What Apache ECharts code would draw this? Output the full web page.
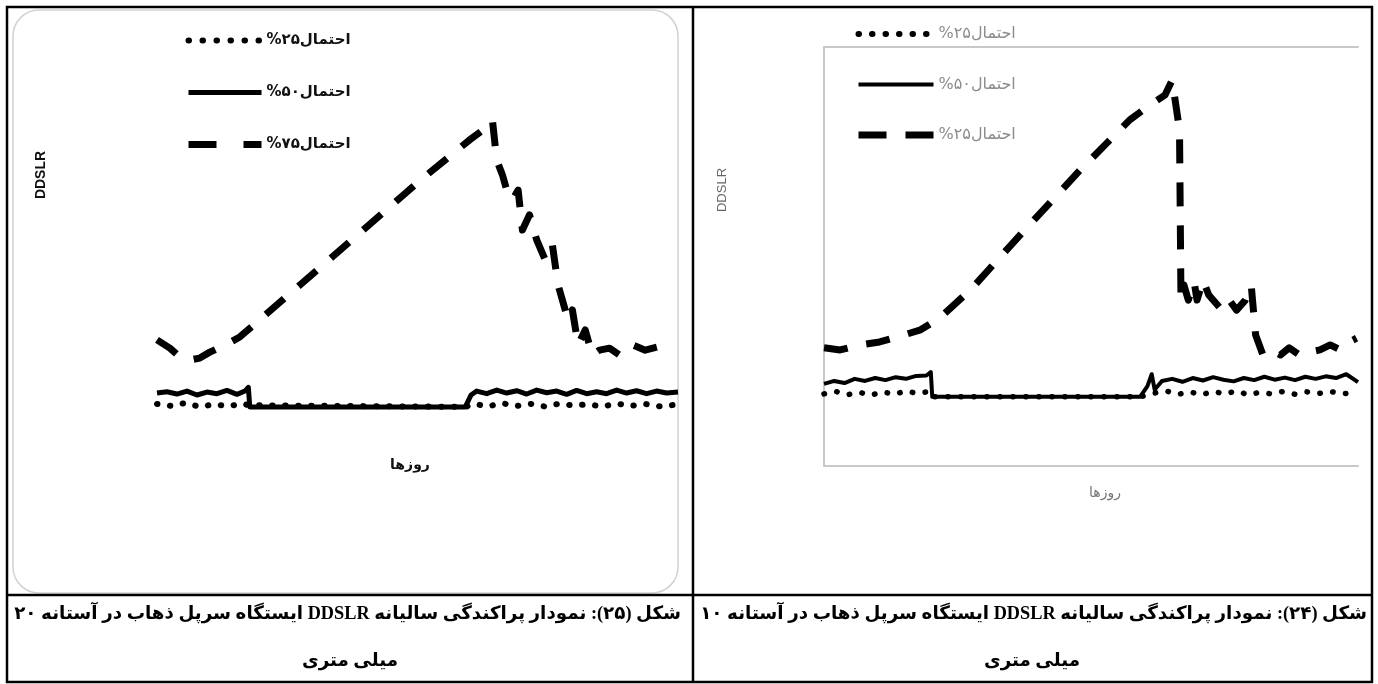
<!DOCTYPE html>
<html>
<head>
<meta charset="utf-8">
<script src="https://cdn.jsdelivr.net/npm/echarts@6/dist/echarts.min.js"></script>
<style>
html,body{margin:0;padding:0;background:#fff;}
#c{width:1378px;height:684px;}
#c canvas{direction:rtl;}
</style>
</head>
<body>
<div id="c"></div>
<script>
// ---- Data (x = day of year, y = relative DDSLR) ----
// Left chart: threshold 20 mm (Fig. 25)
const L25_DAYS = [0,10,20,30,40,50,60,64,65,216,222,232,242,252,262,272,282,292,302,312,322,332,342,352,365];
const L25_VALS = [7.9,7.3,8.2,7.0,7.8,7.2,8.0,7.5,7.0,7.0,7.9,7.2,8.1,7.3,7.9,7.1,8.0,7.4,7.8,7.1,8.0,7.3,7.9,7.2,7.7];
const L50_DAYS = [0,7,14,21,28,35,42,49,56,62,64,65,216,220,224,231,238,245,252,259,266,273,280,287,294,301,308,315,322,329,336,343,350,357,365];
const L50_VALS = [11.2,11.6,10.9,11.8,10.6,11.5,11.0,12.0,10.8,11.9,12.9,7.0,7.0,10.6,11.8,11.0,12.1,11.2,11.9,10.9,12.1,11.3,11.8,10.8,12.0,11.0,11.6,11.0,12.1,11.2,11.9,11.0,11.8,11.2,11.5];
const L75_DAYS = [0,9,16,23,30,37,48,58,100,142,184,219,233,235,238,242,246,249,253,256,261,266,272,277,281,284,288,291,295,300,305,310,317,324,333,342,356];
const L75_VALS = [27.3,24.8,22.1,21.2,21.8,23.6,25.8,28.2,43.9,59.7,75.5,87.9,92.4,93.9,81.8,77.3,71.2,69.7,72.7,60.6,65.2,57.6,51.5,56.1,43.9,39.4,33.3,36.4,25.8,30.3,22.7,24.2,24.8,22.7,25.8,24.2,25.8];
// Right chart: threshold 10 mm (Fig. 24)
const R25_DAYS = [0,8,16,24,32,40,48,56,64,72,74,216,226,234,242,250,258,266,274,282,290,298,306,314,322,330,338,346,354,365];
const R25_VALS = [17.2,17.8,17.0,17.6,16.9,17.7,17.1,17.9,17.3,17.8,16.5,16.5,17.4,17.9,17.1,17.7,17.0,17.8,17.2,17.9,17.0,17.6,17.2,17.8,17.1,17.7,17.3,17.8,17.2,17.6];
const R50_DAYS = [0,7,14,21,28,35,42,49,56,63,70,73,74,216,221,224,226,231,238,245,252,259,266,273,280,287,294,301,308,315,322,329,336,343,350,357,365];
const R50_VALS = [19.6,20.3,19.8,20.8,20.3,21.0,20.5,21.2,20.8,21.5,21.6,22.4,16.5,16.5,19.0,21.9,18.2,20.3,20.8,20.1,21.0,20.4,21.2,20.6,20.2,21.0,20.5,21.3,20.6,21.1,20.5,21.3,20.8,21.4,21.0,21.9,20.0];
const R75_DAYS = [0,11,25,38,52,66,79,100,134,175,209,223,233,238,243,244,246,249,253,255,259,263,272,277,282,288,292,295,300,306,312,318,325,332,339,346,353,359,364];
const R75_VALS = [28.2,27.7,28.9,29.6,31.0,32.5,35.3,42.0,55.1,70.6,82.6,86.2,88.5,92.1,80.2,39.6,43.2,39.6,43.9,39.6,44.4,40.8,37.2,39.6,37.2,39.6,43.2,31.3,26.5,27.7,26.5,28.2,26.5,27.2,27.7,28.9,27.7,29.6,30.5];

// ---- Text ----
const LEFT_LABELS = {l25:'احتمال۲۵%', l50:'احتمال۵۰%', l75:'احتمال۷۵%'};
const RIGHT_LABELS = {r25:'احتمال۲۵%', r50:'احتمال۵۰%', r75:'احتمال۲۵%'};
const Y_NAME = 'DDSLR';
const X_NAME = 'روزها';
const CAP_LEFT_1 = 'شکل (۲۵): نمودار پراکندگی سالیانه DDSLR ایستگاه سرپل ذهاب در آستانه ۲۰';
const CAP_RIGHT_1 = 'شکل (۲۴): نمودار پراکندگی سالیانه DDSLR ایستگاه سرپل ذهاب در آستانه ۱۰';
const CAP_2 = 'میلی متری';

const zip = (a, b) => a.map((d, i) => [d, b[i]]);

const ARABIC_SANS = '"DejaVu Sans", "Noto Sans", sans-serif';
const CAP_FONT = '"Liberation Serif", "DejaVu Sans", serif';

const DOT = [0.5, 12.5], DASH = [24, 19];

function mkSeries(name, xi, days, vals, kind, w) {
  const ls = {color: '#000', width: w, join: 'round'};
  if (kind === 'dot') { ls.type = DOT; ls.cap = 'round'; }
  if (kind === 'dash') { ls.type = DASH; ls.cap = 'butt'; }
  return {
    name, type: 'line', xAxisIndex: xi, yAxisIndex: xi,
    data: zip(days, vals), symbol: 'none', showSymbol: false,
    lineStyle: ls, itemStyle: {color: '#000'}, z: 3, silent: true
  };
}

const chart = echarts.init(document.getElementById('c'), null, {renderer: 'canvas'});
const frameAxisLine = {show: true, lineStyle: {color: '#c8c8c8', width: 2}, onZero: false};
const hiddenSymbol = {color: 'rgba(0,0,0,0)', borderWidth: 0, opacity: 0};

const option = {
  animation: false,
  backgroundColor: '#fff',
  grid: [
    {left: 157, top: 100, width: 521, height: 330},
    {left: 824, top: 47, width: 534, height: 419}
  ],
  xAxis: [
    {gridIndex: 0, type: 'value', min: 0, max: 365, show: false},
    {gridIndex: 1, type: 'value', min: 0, max: 365, axisLine: frameAxisLine,
     axisTick: {show: false}, axisLabel: {show: false}, splitLine: {show: false}},
    {gridIndex: 1, type: 'value', position: 'top', min: 0, max: 365, axisLine: frameAxisLine,
     axisTick: {show: false}, axisLabel: {show: false}, splitLine: {show: false}}
  ],
  yAxis: [
    {gridIndex: 0, type: 'value', min: 0, max: 100, show: false},
    {gridIndex: 1, type: 'value', min: 0, max: 100, axisLine: frameAxisLine,
     axisTick: {show: false}, axisLabel: {show: false}, splitLine: {show: false}}
  ],
  legend: [
    {
      orient: 'vertical', left: 185, top: 33, padding: 0, itemWidth: 73, itemHeight: 14, itemGap: 37,
      selectedMode: false,
      formatter: n => LEFT_LABELS[n],
      itemStyle: hiddenSymbol,
      textStyle: {fontFamily: ARABIC_SANS, fontWeight: 'bold', fontSize: 15, color: '#111'},
      data: [
        {name: 'l25', itemStyle: hiddenSymbol, lineStyle: {type: [0.5, 13.5], width: 6, cap: 'round', color: '#000'}},
        {name: 'l50', itemStyle: hiddenSymbol, lineStyle: {type: 'solid', width: 5, color: '#000'}},
        {name: 'l75', itemStyle: hiddenSymbol, lineStyle: {type: [28, 27], width: 7, cap: 'butt', color: '#000'}}
      ]
    },
    {
      orient: 'vertical', left: 855, top: 26, padding: 0, itemWidth: 75, itemHeight: 14, itemGap: 34.5,
      selectedMode: false,
      formatter: n => RIGHT_LABELS[n],
      itemStyle: hiddenSymbol,
      textStyle: {fontFamily: ARABIC_SANS, fontSize: 16, color: '#8c8c8c'},
      data: [
        {name: 'r25', itemStyle: hiddenSymbol, lineStyle: {type: [0.5, 13], width: 6, cap: 'round', color: '#000'}},
        {name: 'r50', itemStyle: hiddenSymbol, lineStyle: {type: 'solid', width: 4, color: '#000'}},
        {name: 'r75', itemStyle: hiddenSymbol, lineStyle: {type: [28, 19], width: 7, cap: 'butt', color: '#000'}}
      ]
    }
  ],
  series: [
    mkSeries('l25', 0, L25_DAYS, L25_VALS, 'dot', 6),
    mkSeries('l50', 0, L50_DAYS, L50_VALS, 'solid', 5),
    mkSeries('l75', 0, L75_DAYS, L75_VALS, 'dash', 7),
    mkSeries('r25', 1, R25_DAYS, R25_VALS, 'dot', 5.5),
    mkSeries('r50', 1, R50_DAYS, R50_VALS, 'solid', 4),
    mkSeries('r75', 1, R75_DAYS, R75_VALS, 'dash', 7)
  ],
  graphic: [
    // table frame
    {type: 'rect', shape: {x: 7, y: 7, width: 1365, height: 675}, style: {fill: 'none', stroke: '#000', lineWidth: 2.5}, z: 10},
    {type: 'line', shape: {x1: 693, y1: 7, x2: 693, y2: 682}, style: {stroke: '#000', lineWidth: 2.5}, z: 10},
    {type: 'line', shape: {x1: 7, y1: 595, x2: 1372, y2: 595}, style: {stroke: '#000', lineWidth: 2.5}, z: 10},
    // rounded frame of the left picture
    {type: 'rect', shape: {x: 13, y: 10, width: 665, height: 583, r: 26}, style: {fill: 'none', stroke: '#d2d2d2', lineWidth: 1.5}, z: 1},
    // axis titles
    {type: 'text', x: 41, y: 175, rotation: Math.PI / 2,
     style: {text: Y_NAME, font: 'bold 14px "Liberation Sans", Arial, sans-serif', fill: '#111', align: 'center', verticalAlign: 'middle'}},
    {type: 'text', x: 722, y: 190, rotation: Math.PI / 2,
     style: {text: Y_NAME, font: '13px "Liberation Sans", Arial, sans-serif', fill: '#666', align: 'center', verticalAlign: 'middle'}},
    {type: 'text', x: 410, y: 465,
     style: {text: X_NAME, font: 'bold 14px ' + ARABIC_SANS, fill: '#111', align: 'center', verticalAlign: 'middle'}},
    {type: 'text', x: 1105, y: 493,
     style: {text: X_NAME, font: '14px ' + ARABIC_SANS, fill: '#777', align: 'center', verticalAlign: 'middle'}},
    // captions
    {type: 'text', x: 681, y: 614,
     style: {text: CAP_LEFT_1, font: 'bold 18.3px ' + CAP_FONT, fill: '#000', align: 'right', verticalAlign: 'middle'}},
    {type: 'text', x: 350, y: 661,
     style: {text: CAP_2, font: 'bold 18.3px ' + CAP_FONT, fill: '#000', align: 'center', verticalAlign: 'middle'}},
    {type: 'text', x: 1367, y: 614,
     style: {text: CAP_RIGHT_1, font: 'bold 18.3px ' + CAP_FONT, fill: '#000', align: 'right', verticalAlign: 'middle'}},
    {type: 'text', x: 1032, y: 661,
     style: {text: CAP_2, font: 'bold 18.3px ' + CAP_FONT, fill: '#000', align: 'center', verticalAlign: 'middle'}}
  ]
};
chart.setOption(option);
</script>
</body>
</html>
